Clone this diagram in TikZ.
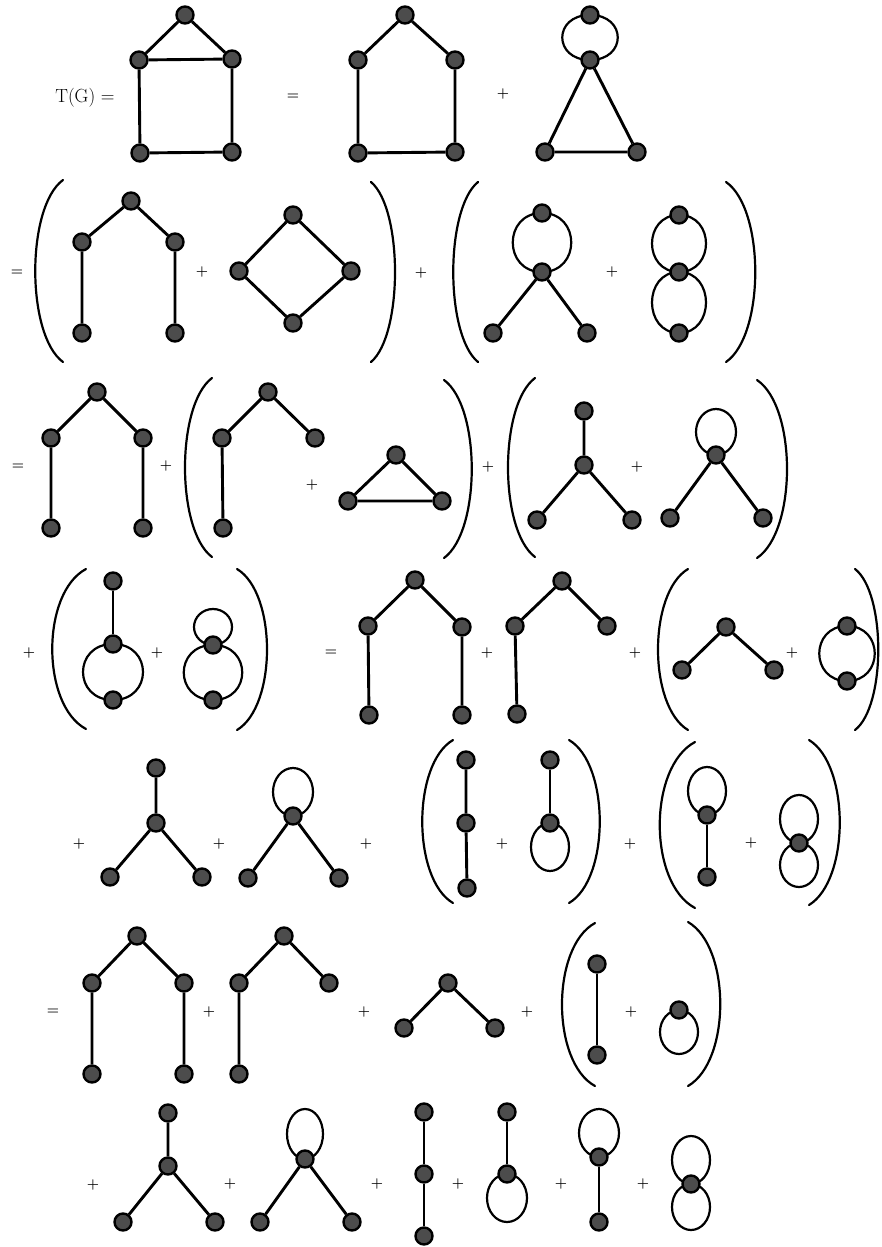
\documentclass[tikz,border=0pt]{standalone}
\usepackage{tikz}
\usetikzlibrary{backgrounds}
\tikzset{
	vtx/.style={circle, draw=black, line width=2.4pt, fill=black!70, minimum size=17pt, inner sep=0pt},
	bond/.style={line width=2.9pt},
	thinbond/.style={line width=1.8pt},
	loopline/.style={line width=2.2pt},
	paren/.style={line width=2.2pt, line cap=round},
	sym/.style={font=\fontsize{14}{16}\selectfont\bfseries, inner sep=0pt},
	title/.style={font=\fontsize{19}{21}\selectfont, inner sep=0pt}
}

\begin{document}
\begin{tikzpicture}[x=1pt, y=-1pt]
\useasboundingbox (0,0) rectangle (881,1247);

% row 1
\node[title] (tg) at (85,98) {T(G) =};
\node[sym] (s1) at (293,97) {=};
\node[sym] (s2) at (503,94) {+};
\node[vtx] (a1) at (185,15) {};
\node[vtx] (a2) at (139,60) {};
\node[vtx] (a3) at (232,59) {};
\node[vtx] (a4) at (140,153) {};
\node[vtx] (a5) at (232,152) {};
\node[vtx] (b1) at (405,15) {};
\node[vtx] (b2) at (358,60) {};
\node[vtx] (b3) at (455,60) {};
\node[vtx] (b4) at (358,153) {};
\node[vtx] (b5) at (455,152) {};
\node[vtx] (c1) at (590,15) {};
\node[vtx] (c2) at (590,60) {};
\node[vtx] (c3) at (545,152) {};
\node[vtx] (c4) at (637,152) {};
\begin{scope}[on background layer]
\draw[bond] (a1) -- (a2) (a1) -- (a3) (a2) -- (a3) (a2) -- (a4) (a3) -- (a5) (a4) -- (a5);
\draw[bond] (b1) -- (b2) (b1) -- (b3) (b2) -- (b4) (b3) -- (b5) (b4) -- (b5);
\draw[loopline] (c1.center) .. controls +(-37,0) and +(-37,0) .. (c2.center)
	(c1.center) .. controls +(37,0) and +(37,0) .. (c2.center);
\draw[bond] (c2) -- (c3) (c2) -- (c4) (c3) -- (c4);
\end{scope}

% row 2
\node[sym] (s3) at (17,273) {=};
\node[sym] (s4) at (202,272) {+};
\node[sym] (s5) at (421,273) {+};
\node[sym] (s6) at (612,272) {+};
\draw[paren] (63,180) .. controls (26,207) and (26,335) .. (63,362);
\draw[paren] (371,182) .. controls (403,209) and (403,335) .. (371,362);
\draw[paren] (478,182) .. controls (445,209) and (445,335) .. (478,362);
\draw[paren] (726,182) .. controls (765,209) and (765,335) .. (726,362);
\node[vtx] (d1) at (131,201) {};
\node[vtx] (d2) at (82,242) {};
\node[vtx] (d3) at (175,242) {};
\node[vtx] (d4) at (82,333) {};
\node[vtx] (d5) at (175,333) {};
\node[vtx] (e1) at (293,215) {};
\node[vtx] (e2) at (239,271) {};
\node[vtx] (e3) at (351,271) {};
\node[vtx] (e4) at (293,323) {};
\node[vtx] (f1) at (542,213) {};
\node[vtx] (f2) at (542,272) {};
\node[vtx] (f3) at (493,333) {};
\node[vtx] (f4) at (587,333) {};
\node[vtx] (g1) at (679,215) {};
\node[vtx] (g2) at (679,272) {};
\node[vtx] (g3) at (679,333) {};
\begin{scope}[on background layer]
\draw[bond] (d1) -- (d2) (d1) -- (d3) (d2) -- (d4) (d3) -- (d5);
\draw[bond] (e1) -- (e2) (e1) -- (e3) (e2) -- (e4) (e3) -- (e4);
\draw[loopline] (f1.center) .. controls +(-39,0) and +(-39,0) .. (f2.center)
	(f1.center) .. controls +(39,0) and +(39,0) .. (f2.center);
\draw[bond] (f2) -- (f3) (f2) -- (f4);
\draw[loopline] (g1.center) .. controls +(-36,0) and +(-36,0) .. (g2.center)
	(g1.center) .. controls +(36,0) and +(36,0) .. (g2.center);
\draw[loopline] (g2.center) .. controls +(-36,0) and +(-36,0) .. (g3.center)
	(g2.center) .. controls +(36,0) and +(36,0) .. (g3.center);
\end{scope}

% row 3
\node[sym] (s7) at (18,467) {=};
\node[sym] (s8) at (166,466) {+};
\node[sym] (s9) at (312,485) {+};
\node[sym] (s10) at (488,467) {+};
\node[sym] (s11) at (637,467) {+};
\draw[paren] (212,378) .. controls (176,405) and (176,530) .. (212,557);
\draw[paren] (444,380) .. controls (481,407) and (481,531) .. (444,558);
\draw[paren] (535,378) .. controls (499,405) and (499,530) .. (535,557);
\draw[paren] (757,380) .. controls (797,407) and (797,531) .. (757,558);
\node[vtx] (h1) at (97,392) {};
\node[vtx] (h2) at (51,438) {};
\node[vtx] (h3) at (143,438) {};
\node[vtx] (h4) at (51,528) {};
\node[vtx] (h5) at (143,528) {};
\node[vtx] (i1) at (268,392) {};
\node[vtx] (i2) at (222,438) {};
\node[vtx] (i3) at (315,438) {};
\node[vtx] (i4) at (223,528) {};
\node[vtx] (j1) at (396,455) {};
\node[vtx] (j2) at (348,501) {};
\node[vtx] (j3) at (442,501) {};
\node[vtx] (k1) at (584,411) {};
\node[vtx] (k2) at (584,465) {};
\node[vtx] (k3) at (537,520) {};
\node[vtx] (k4) at (632,520) {};
\node[vtx] (l1) at (716,455) {};
\node[vtx] (l2) at (670,518) {};
\node[vtx] (l3) at (763,518) {};
\begin{scope}[on background layer]
\draw[bond] (h1) -- (h2) (h1) -- (h3) (h2) -- (h4) (h3) -- (h5);
\draw[bond] (i1) -- (i2) (i1) -- (i3) (i2) -- (i4);
\draw[bond] (j1) -- (j2) (j1) -- (j3) (j2) -- (j3);
\draw[bond] (k1) -- (k2) (k2) -- (k3) (k2) -- (k4);
\draw[loopline] (l1.center) ++(0,-23) ellipse [x radius=20pt, y radius=23pt];
\draw[bond] (l1) -- (l2) (l1) -- (l3);
\end{scope}

% row 4
\node[sym] (s12) at (29,653) {+};
\node[sym] (s13) at (157,653) {+};
\node[sym] (s14) at (331,653) {=};
\node[sym] (s15) at (487,653) {+};
\node[sym] (s16) at (635,653) {+};
\node[sym] (s17) at (792,653) {+};
\draw[paren] (86,569) .. controls (41,593) and (41,705) .. (86,729);
\draw[paren] (237,569) .. controls (277,593) and (277,706) .. (237,730);
\draw[paren] (688,569) .. controls (648,593) and (648,706) .. (688,730);
\draw[paren] (855,569) .. controls (886,593) and (886,706) .. (855,730);
\node[vtx] (m1) at (113,581) {};
\node[vtx] (m2) at (113,644) {};
\node[vtx] (m3) at (113,700) {};
\node[vtx] (n1) at (213,645) {};
\node[vtx] (n2) at (213,700) {};
\node[vtx] (o1) at (415,580) {};
\node[vtx] (o2) at (368,626) {};
\node[vtx] (o3) at (462,627) {};
\node[vtx] (o4) at (369,715) {};
\node[vtx] (o5) at (462,715) {};
\node[vtx] (p1) at (562,581) {};
\node[vtx] (p2) at (515,626) {};
\node[vtx] (p3) at (607,626) {};
\node[vtx] (p4) at (517,714) {};
\node[vtx] (q1) at (726,627) {};
\node[vtx] (q2) at (682,670) {};
\node[vtx] (q3) at (774,670) {};
\node[vtx] (r1) at (847,626) {};
\node[vtx] (r2) at (847,681) {};
\begin{scope}[on background layer]
\draw[bond] (m1) -- (m2);
\draw[loopline] (m2.center) .. controls +(-40,0) and +(-40,0) .. (m3.center)
	(m2.center) .. controls +(40,0) and +(40,0) .. (m3.center);
\draw[loopline] (n1.center) ++(0,-18) ellipse [x radius=19pt, y radius=18pt];
\draw[loopline] (n1.center) .. controls +(-39,0) and +(-39,0) .. (n2.center)
	(n1.center) .. controls +(39,0) and +(39,0) .. (n2.center);
\draw[bond] (o1) -- (o2) (o1) -- (o3) (o2) -- (o4) (o3) -- (o5);
\draw[bond] (p1) -- (p2) (p1) -- (p3) (p2) -- (p4);
\draw[bond] (q1) -- (q2) (q1) -- (q3);
\draw[loopline] (r1.center) .. controls +(-37,0) and +(-37,0) .. (r2.center)
	(r1.center) .. controls +(37,0) and +(37,0) .. (r2.center);
\end{scope}

% row 5
\node[sym] (s18) at (79,844) {+};
\node[sym] (s19) at (219,844) {+};
\node[sym] (s20) at (366,844) {+};
\node[sym] (s21) at (502,844) {+};
\node[sym] (s22) at (630,844) {+};
\node[sym] (s23) at (751,843) {+};
\draw[paren] (453,740) .. controls (412,764) and (412,879) .. (453,903);
\draw[paren] (569,740) .. controls (610,764) and (610,879) .. (569,903);
\draw[paren] (695,742) .. controls (648,767) and (648,883) .. (695,908);
\draw[paren] (809,740) .. controls (850,765) and (850,880) .. (809,905);
\node[vtx] (t1) at (156,768) {};
\node[vtx] (t2) at (156,823) {};
\node[vtx] (t3) at (110,877) {};
\node[vtx] (t4) at (202,877) {};
\node[vtx] (u1) at (293,816) {};
\node[vtx] (u2) at (248,878) {};
\node[vtx] (u3) at (339,878) {};
\node[vtx] (v1) at (466,760) {};
\node[vtx] (v2) at (466,823) {};
\node[vtx] (v3) at (467,888) {};
\node[vtx] (w1) at (550,760) {};
\node[vtx] (w2) at (550,823) {};
\node[vtx] (x1) at (707,815) {};
\node[vtx] (x2) at (707,877) {};
\node[vtx] (y1) at (799,843) {};
\begin{scope}[on background layer]
\draw[bond] (t1) -- (t2) (t2) -- (t3) (t2) -- (t4);
\draw[loopline] (u1.center) ++(0,-24) ellipse [x radius=20pt, y radius=24pt];
\draw[bond] (u1) -- (u2) (u1) -- (u3);
\draw[bond] (v1) -- (v2) (v2) -- (v3);
\draw[bond] (w1) -- (w2);
\draw[loopline] (w2.center) ++(0,24) ellipse [x radius=19pt, y radius=24pt];
\draw[loopline] (x1.center) ++(0,-24) ellipse [x radius=19pt, y radius=24pt];
\draw[thinbond] (x1) -- (x2);
\draw[loopline] (y1.center) ++(0,-24) ellipse [x radius=19pt, y radius=24pt];
\draw[loopline] (y1.center) ++(0,22) ellipse [x radius=19pt, y radius=22pt];
\end{scope}

% row 6
\node[sym] (s24) at (53,1012) {=};
\node[sym] (s25) at (209,1012) {+};
\node[sym] (s26) at (364,1012) {+};
\node[sym] (s27) at (527,1012) {+};
\node[sym] (s28) at (631,1012) {+};
\draw[paren] (595,923) .. controls (551,947) and (551,1062) .. (595,1086);
\draw[paren] (688,922) .. controls (731,947) and (731,1061) .. (688,1086);
\node[vtx] (z1) at (137,936) {};
\node[vtx] (z2) at (92,983) {};
\node[vtx] (z3) at (184,983) {};
\node[vtx] (z4) at (92,1074) {};
\node[vtx] (z5) at (184,1074) {};
\node[vtx] (zz1) at (284,936) {};
\node[vtx] (zz2) at (239,983) {};
\node[vtx] (zz3) at (329,983) {};
\node[vtx] (zz4) at (239,1074) {};
\node[vtx] (aa1) at (448,983) {};
\node[vtx] (aa2) at (404,1028) {};
\node[vtx] (aa3) at (495,1028) {};
\node[vtx] (ab1) at (597,964) {};
\node[vtx] (ab2) at (597,1055) {};
\node[vtx] (ac1) at (679,1010) {};
\begin{scope}[on background layer]
\draw[bond] (z1) -- (z2) (z1) -- (z3) (z2) -- (z4) (z3) -- (z5);
\draw[bond] (zz1) -- (zz2) (zz1) -- (zz3) (zz2) -- (zz4);
\draw[bond] (aa1) -- (aa2) (aa1) -- (aa3);
\draw[bond] (ab1) -- (ab2);
\draw[loopline] (ac1.center) ++(0,22) ellipse [x radius=19pt, y radius=22pt];
\end{scope}

% row 7
\node[sym] (s29) at (93,1185) {+};
\node[sym] (s30) at (230,1184) {+};
\node[sym] (s31) at (377,1184) {+};
\node[sym] (s32) at (458,1184) {+};
\node[sym] (s33) at (561,1184) {+};
\node[sym] (s34) at (643,1184) {+};
\node[vtx] (ad1) at (168,1113) {};
\node[vtx] (ad2) at (168,1166) {};
\node[vtx] (ad3) at (123,1222) {};
\node[vtx] (ad4) at (215,1222) {};
\node[vtx] (ae1) at (305,1159) {};
\node[vtx] (ae2) at (260,1222) {};
\node[vtx] (ae3) at (352,1222) {};
\node[vtx] (af1) at (424,1112) {};
\node[vtx] (af2) at (424,1174) {};
\node[vtx] (af3) at (424,1236) {};
\node[vtx] (ag1) at (507,1112) {};
\node[vtx] (ag2) at (507,1174) {};
\node[vtx] (ah1) at (599,1157) {};
\node[vtx] (ah2) at (599,1222) {};
\node[vtx] (ai1) at (691,1184) {};
\begin{scope}[on background layer]
\draw[bond] (ad1) -- (ad2) (ad2) -- (ad3) (ad2) -- (ad4);
\draw[loopline] (ae1.center) ++(0,-25) ellipse [x radius=18pt, y radius=25pt];
\draw[bond] (ae1) -- (ae2) (ae1) -- (ae3);
\draw[bond] (af1) -- (af2) (af2) -- (af3);
\draw[bond] (ag1) -- (ag2);
\draw[loopline] (ag2.center) ++(0,24) ellipse [x radius=20pt, y radius=24pt];
\draw[loopline] (ah1.center) ++(0,-24) ellipse [x radius=20pt, y radius=24pt];
\draw[thinbond] (ah1) -- (ah2);
\draw[loopline] (ai1.center) ++(0,-24) ellipse [x radius=19pt, y radius=24pt];
\draw[loopline] (ai1.center) ++(0,23) ellipse [x radius=19pt, y radius=23pt];
\end{scope}
\end{tikzpicture}
\end{document}
